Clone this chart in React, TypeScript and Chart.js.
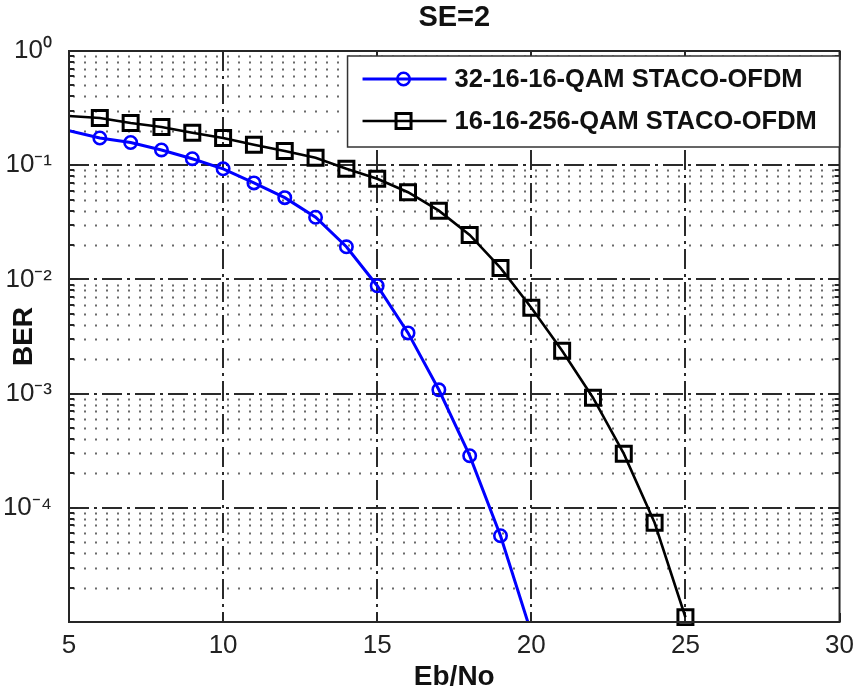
import React, { useEffect, useRef } from 'react';
import { Chart, registerables } from 'chart.js';

Chart.register(...registerables);

// ---- data ----
const chartTitle = 'SE=2';
const xAxisLabel = 'Eb/No';
const yAxisLabel = 'BER';

const seriesLabels = ['32-16-16-QAM STACO-OFDM', '16-16-256-QAM STACO-OFDM'];

const ebNoQam32 = [5, 6, 7, 8, 9, 10, 11, 12, 13, 14, 15, 16, 17, 18, 19, 20];
const berQam32 = [
  0.2, 0.173, 0.158, 0.136, 0.114, 0.093, 0.07, 0.052, 0.035, 0.0193, 0.0088, 0.0034, 0.00108,
  0.000286, 0.000057, 0.000008,
];

const ebNoQam256 = [5, 6, 7, 8, 9, 10, 11, 12, 13, 14, 15, 16, 17, 18, 19, 20, 21, 22, 23, 24, 25];
const berQam256 = [
  0.27, 0.259, 0.234, 0.216, 0.192, 0.173, 0.151, 0.133, 0.116, 0.093, 0.076, 0.058, 0.04,
  0.0245, 0.0126, 0.00565, 0.00237, 0.00092, 0.000298, 0.000074, 0.000011,
];

const xTicks = [5, 10, 15, 20, 25, 30];
const yTicks = [1e-4, 1e-3, 1e-2, 1e-1, 1];
const xMin = 5;
const xMax = 30;
const yMin = 1e-5;
const yMax = 1;

// ---- styling ----
const FONT = '"Liberation Sans", Arial, Helvetica, sans-serif';
const AXIS_COLOR = '#262626';
const TEXT_COLOR = '#222222';

const SUP: Record<string, string> = {
  '-': '\u207B', '0': '\u2070', '1': '\u00B9', '2': '\u00B2', '3': '\u00B3', '4': '\u2074',
  '5': '\u2075', '6': '\u2076', '7': '\u2077', '8': '\u2078', '9': '\u2079',
};
const supText = (s: string) => s.split('').map((c) => SUP[c] ?? c).join('');

const matlabPlugin = {
  id: 'matlabAxes',
  beforeDatasetsDraw(chart: any) {
    const { ctx, chartArea: a, scales } = chart;
    const x = scales.x;
    const y = scales.y;
    ctx.save();
    ctx.fillStyle = '#ffffff';
    ctx.fillRect(a.left, a.top, a.right - a.left, a.bottom - a.top);

    // minor (dotted) horizontal grid
    ctx.lineWidth = 2;
    ctx.strokeStyle = '#6a6a6a';
    ctx.setLineDash([2, 9]);
    for (let e = -6; e <= 0; e++) {
      for (let m = 2; m <= 9; m++) {
        const v = m * Math.pow(10, e);
        if (v <= yMin || v >= yMax) continue;
        const py = Math.round(y.getPixelForValue(v)) + 0.5;
        ctx.beginPath();
        ctx.moveTo(a.left + 4, py);
        ctx.lineTo(a.right, py);
        ctx.stroke();
      }
    }

    // major dash-dot grid
    ctx.strokeStyle = '#2a2a2a';
    ctx.lineWidth = 2;
    ctx.setLineDash([20, 5, 3, 5]);
    for (const v of yTicks) {
      if (v <= yMin || v >= yMax) continue;
      const py = Math.round(y.getPixelForValue(v));
      ctx.beginPath();
      ctx.moveTo(a.left, py);
      ctx.lineTo(a.right, py);
      ctx.stroke();
    }
    for (const v of xTicks) {
      if (v <= xMin || v >= xMax) continue;
      const px = Math.round(x.getPixelForValue(v));
      ctx.beginPath();
      ctx.moveTo(px, a.top);
      ctx.lineTo(px, a.bottom);
      ctx.stroke();
    }

    // tick marks (inward, on all four sides)
    ctx.setLineDash([]);
    ctx.strokeStyle = AXIS_COLOR;
    ctx.lineWidth = 2;
    const tick = (x1: number, y1: number, x2: number, y2: number) => {
      ctx.beginPath();
      ctx.moveTo(x1, y1);
      ctx.lineTo(x2, y2);
      ctx.stroke();
    };
    for (let e = -6; e <= 0; e++) {
      for (let m = 1; m <= 9; m++) {
        const v = m * Math.pow(10, e);
        if (v < yMin || v > yMax) continue;
        const py = Math.round(y.getPixelForValue(v));
        const len = m === 1 ? 9 : 5;
        tick(a.left, py, a.left + len, py);
        tick(a.right, py, a.right - len, py);
      }
    }
    for (const v of xTicks) {
      const px = Math.round(x.getPixelForValue(v));
      tick(px, a.bottom, px, a.bottom - 9);
      tick(px, a.top, px, a.top + 9);
    }
    ctx.restore();
  },
  afterDatasetsDraw(chart: any) {
    const { ctx, chartArea: a } = chart;
    ctx.save();
    // axes box
    ctx.strokeStyle = AXIS_COLOR;
    ctx.lineWidth = 2;
    ctx.setLineDash([]);
    ctx.strokeRect(a.left, a.top, a.right - a.left, a.bottom - a.top);

    // legend box (inside the axes, top-right)
    const lw = 492;
    const lh = 91;
    const lx = a.right - lw;
    const ly = a.top + 5;
    ctx.fillStyle = '#ffffff';
    ctx.fillRect(lx, ly, lw, lh);
    ctx.lineWidth = 1.5;
    ctx.strokeStyle = '#333333';
    ctx.strokeRect(lx, ly, lw, lh);

    const rows = [ly + 23, ly + 65];
    chart.data.datasets.forEach((ds: any, i: number) => {
      const ry = rows[i];
      ctx.strokeStyle = ds.borderColor;
      ctx.lineWidth = ds.borderWidth;
      ctx.beginPath();
      ctx.moveTo(lx + 15, ry);
      ctx.lineTo(lx + 99, ry);
      ctx.stroke();
      ctx.lineWidth = ds.pointBorderWidth;
      const cx = lx + 56;
      if (ds.pointStyle === 'rect') {
        const s = Math.SQRT1_2 * ds.legendRadius;
        ctx.strokeRect(cx - s, ry - s, 2 * s, 2 * s);
      } else {
        ctx.beginPath();
        ctx.arc(cx, ry, ds.legendRadius, 0, Math.PI * 2);
        ctx.stroke();
      }
      ctx.fillStyle = '#111111';
      ctx.font = `bold 25.5px ${FONT}`;
      ctx.textBaseline = 'middle';
      ctx.textAlign = 'left';
      ctx.fillText(ds.label, lx + 107, ry + 1);
    });
    ctx.restore();
  },
};

export default function App() {
  const canvasRef = useRef<HTMLCanvasElement | null>(null);

  useEffect(() => {
    if (!canvasRef.current) return;
    const circleR = 6.2;
    const rectR = 10.6;
    const chart = new Chart(canvasRef.current, {
      type: 'line',
      data: {
        datasets: [
          {
            label: seriesLabels[0],
            data: ebNoQam32.map((v, i) => ({ x: v, y: berQam32[i] })),
            borderColor: '#0000ff',
            borderWidth: 3,
            pointStyle: 'circle',
            pointRadius: (c: any) => (c.raw && c.raw.x <= xMin ? 0 : circleR),
            pointBorderWidth: 2.6,
            pointBorderColor: '#0000ff',
            pointBackgroundColor: 'rgba(0,0,0,0)',
            tension: 0,
            clip: { left: 0, top: 0, right: 0, bottom: 0 },
            legendRadius: circleR,
          } as any,
          {
            label: seriesLabels[1],
            data: ebNoQam256.map((v, i) => ({ x: v, y: berQam256[i] })),
            borderColor: '#000000',
            borderWidth: 2.6,
            pointStyle: 'rect',
            pointRadius: (c: any) => (c.raw && c.raw.x <= xMin ? 0 : rectR),
            pointBorderWidth: 3,
            pointBorderColor: '#000000',
            pointBackgroundColor: 'rgba(0,0,0,0)',
            tension: 0,
            clip: { left: 0, top: 0, right: 0, bottom: 4 },
            legendRadius: rectR,
          } as any,
        ],
      },
      options: {
        responsive: false,
        animation: false,
        events: [],
        layout: { padding: { left: 0, right: 17, top: 0, bottom: 0 } },
        plugins: {
          legend: { display: false },
          tooltip: { enabled: false },
          title: {
            display: true,
            fullSize: false,
            text: chartTitle,
            color: '#111111',
            font: { family: FONT, size: 29, weight: 'bold' },
            padding: { top: 1, bottom: 15.2 },
          },
        },
        scales: {
          x: {
            type: 'linear',
            min: xMin,
            max: xMax,
            afterBuildTicks: (s: any) => {
              s.ticks = xTicks.map((v) => ({ value: v }));
            },
            afterFit: (s: any) => {
              s.height = 74;
            },
            grid: { display: false, drawTicks: false },
            border: { display: false },
            ticks: {
              color: TEXT_COLOR,
              font: { family: FONT, size: 26 },
              padding: 8,
              autoSkip: false,
              maxRotation: 0,
              callback: (v: any) => String(v),
            },
            title: {
              display: true,
              text: xAxisLabel,
              color: '#111111',
              font: { family: FONT, size: 28, weight: 'bold' },
              padding: { top: 0, bottom: 2 },
            },
          },
          y: {
            type: 'logarithmic',
            min: yMin,
            max: yMax,
            afterBuildTicks: (s: any) => {
              s.ticks = yTicks.map((v) => ({ value: v }));
            },
            afterFit: (s: any) => {
              s.width = 69;
            },
            grid: { display: false, drawTicks: false },
            border: { display: false },
            ticks: {
              color: TEXT_COLOR,
              font: { family: FONT, size: 26 },
              padding: 17,
              autoSkip: false,
              callback: (v: any) => '10' + supText(String(Math.round(Math.log10(Number(v))))),
            },
            title: {
              display: true,
              text: yAxisLabel,
              color: '#111111',
              font: { family: FONT, size: 28, weight: 'bold' },
              padding: { top: 7, bottom: 0 },
            },
          },
        },
      } as any,
      plugins: [matlabPlugin],
    });
    return () => chart.destroy();
  }, []);

  return (
    <div style={{ position: 'absolute', left: 0, top: 0, width: 862, height: 696, background: '#ffffff' }}>
      <canvas ref={canvasRef} width={862} height={696} style={{ display: 'block' }} />
    </div>
  );
}
